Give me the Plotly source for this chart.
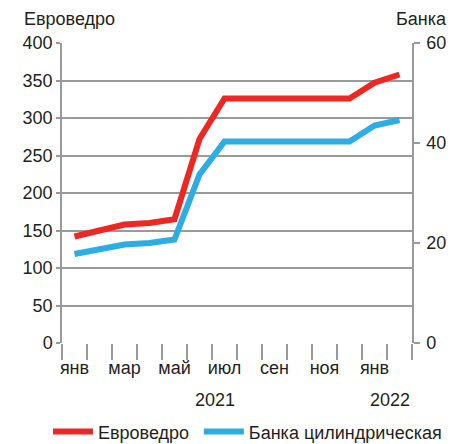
import plotly.graph_objects as go

# months Jan 2021 .. Feb 2022
months = ['янв', 'фев', 'мар', 'апр', 'май', 'июн', 'июл', 'авг', 'сен', 'окт', 'ноя', 'дек', 'янв', 'фев']
evrovedro = [142, 149, 158, 160, 165, 272, 326, 326, 326, 326, 326, 326, 347, 358]
banka = [17.8, 18.7, 19.7, 20.0, 20.7, 33.7, 40.3, 40.3, 40.3, 40.3, 40.3, 40.3, 43.5, 44.6]

left_ticks = [0, 50, 100, 150, 200, 250, 300, 350, 400]
right_ticks = [0, 20, 40, 60]
years = ['2021', '2022']

RED = '#ee2722'
BLUE = '#2cade3'
GRID = '#9a9a9a'
TEXT = '#231f20'
FONT = 'Liberation Sans, Arial, sans-serif'

x = list(range(len(months)))

fig = go.Figure()
fig.add_trace(go.Scatter(x=x, y=evrovedro, name='Евроведро', mode='lines',
                         line=dict(color=RED, width=6)))
fig.add_trace(go.Scatter(x=x, y=banka, name='Банка цилиндрическая', mode='lines', yaxis='y2',
                         legend='legend2', line=dict(color=BLUE, width=6)))

legend_style = dict(orientation='h', xanchor='left', y=-0.296, yanchor='middle',
                    font=dict(size=18), itemwidth=40, bgcolor='rgba(0,0,0,0)')

# the page body adds 8px margin, so the figure is 8px smaller each way
fig.update_layout(
    width=461, height=436,
    margin=dict(l=54, r=57, t=35, b=101, autoexpand=False),
    plot_bgcolor='white', paper_bgcolor='white',
    font=dict(family=FONT, size=18, color=TEXT),
    showlegend=True,
    legend=dict(x=-0.04, **legend_style),
    legend2=dict(x=0.391, **legend_style),
    xaxis=dict(range=[-0.5, len(months) - 0.5],
               tickvals=x[::2], ticktext=months[::2],
               ticks='outside', ticklen=8, tickcolor='rgba(0,0,0,0)',
               showgrid=False, showline=False, zeroline=False,
               minor=dict(tick0=-0.5, dtick=1, ticks='outside', ticklen=16,
                          tickcolor=GRID, tickwidth=1.5, showgrid=False)),
    yaxis=dict(range=[0, 400], tickvals=left_ticks, ticks='outside', ticklen=4,
               tickcolor=GRID, tickwidth=1.5,
               showgrid=True, gridcolor=GRID, gridwidth=1.5,
               showline=True, linecolor=GRID, linewidth=1.5, zeroline=False),
    yaxis2=dict(range=[0, 60], tickvals=right_ticks, overlaying='y', side='right',
                ticks='outside', ticklen=6, tickcolor=GRID, tickwidth=1.5,
                ticklabelstandoff=3,
                showgrid=False, showline=True, linecolor=GRID, linewidth=1.5,
                zeroline=False),
)

fig.add_annotation(text='Евроведро', xref='paper', yref='paper', x=-0.113, y=1.08,
                   xanchor='left', yanchor='middle', showarrow=False)
fig.add_annotation(text='Банка', xref='paper', yref='paper', x=1.105, y=1.08,
                   xanchor='right', yanchor='middle', showarrow=False)
fig.add_annotation(text=years[0], xref='x', yref='paper', x=5.62, y=-0.19,
                   xanchor='center', yanchor='middle', showarrow=False)
fig.add_annotation(text=years[1], xref='x', yref='paper', x=13.5, y=-0.19,
                   xanchor='right', yanchor='middle', showarrow=False)

fig.write_html("out.html")
